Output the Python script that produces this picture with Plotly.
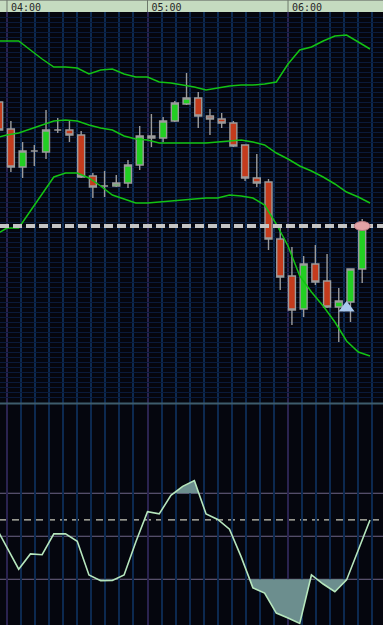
import numpy as np
import pandas as pd
import plotly.graph_objects as go

# ---------------- data ----------------
# bar times (first bar lies just left of the visible window)
bar_times = pd.date_range("2013-05-14 03:55", periods=33, freq="5min")
candle_times = bar_times[1:]

opens = [1.32310, 1.32283, 1.32245, 1.32261, 1.32260, 1.32282, 1.32282, 1.32277,
         1.32236, 1.32226, 1.32226, 1.32229, 1.32247, 1.32276, 1.32274, 1.32291,
         1.32308, 1.32314, 1.32296, 1.32293, 1.32289, 1.32267, 1.32234, 1.32230,
         1.32173, 1.32136, 1.32103, 1.32148, 1.32131, 1.32105, 1.32110, 1.32143]
highs = [1.32317, 1.32291, 1.32270, 1.32267, 1.32302, 1.32294, 1.32292, 1.32281,
         1.32239, 1.32241, 1.32237, 1.32252, 1.32286, 1.32298, 1.32295, 1.32311,
         1.32339, 1.32320, 1.32303, 1.32299, 1.32291, 1.32267, 1.32258, 1.32233,
         1.32184, 1.32165, 1.32156, 1.32167, 1.32158, 1.32124, 1.32143, 1.32193]
lows = [1.32277, 1.32240, 1.32234, 1.32246, 1.32253, 1.32279, 1.32270, 1.32234,
        1.32214, 1.32215, 1.32225, 1.32224, 1.32242, 1.32265, 1.32270, 1.32290,
        1.32307, 1.32284, 1.32277, 1.32284, 1.32265, 1.32231, 1.32225, 1.32162,
        1.32122, 1.32087, 1.32095, 1.32127, 1.32104, 1.32070, 1.32090, 1.32129]
closes = [1.32282, 1.32245, 1.32261, 1.32261, 1.32282, 1.32282, 1.32277, 1.32235,
          1.32225, 1.32226, 1.32229, 1.32247, 1.32276, 1.32274, 1.32291, 1.32309,
          1.32314, 1.32296, 1.32293, 1.32289, 1.32266, 1.32234, 1.32229, 1.32173,
          1.32135, 1.32102, 1.32148, 1.32130, 1.32105, 1.32111, 1.32143, 1.32185]

bb_upper = [1.32371, 1.32371, 1.32371, 1.32362, 1.32353, 1.32345, 1.32345, 1.32344,
            1.32338, 1.32342, 1.32343, 1.32338, 1.32335, 1.32335, 1.32330, 1.32329,
            1.32327, 1.32325, 1.32322, 1.32324, 1.32326, 1.32327, 1.32327, 1.32328,
            1.32330, 1.32348, 1.32362, 1.32365, 1.32371, 1.32376, 1.32377, 1.32370,
            1.32363]
bb_mid = [1.32274, 1.32277, 1.32279, 1.32283, 1.32287, 1.32291, 1.32292, 1.32291,
          1.32287, 1.32284, 1.32282, 1.32276, 1.32273, 1.32272, 1.32269, 1.32269,
          1.32269, 1.32269, 1.32269, 1.32270, 1.32271, 1.32272, 1.32270, 1.32267,
          1.32259, 1.32253, 1.32246, 1.32241, 1.32235, 1.32228, 1.32220, 1.32215,
          1.32209]
bb_lower = [1.32177, 1.32184, 1.32184, 1.32201, 1.32218, 1.32235, 1.32239, 1.32239,
            1.32234, 1.32226, 1.32217, 1.32213, 1.32209, 1.32209, 1.32210, 1.32211,
            1.32212, 1.32213, 1.32214, 1.32214, 1.32217, 1.32216, 1.32214, 1.32207,
            1.32188, 1.32166, 1.32136, 1.32120, 1.32106, 1.32090, 1.32071, 1.32060,
            1.32056]

rsi = [54.8, 45.0, 34.7, 41.8, 41.4, 51.1, 51.1, 47.7, 32.0, 29.3, 29.4, 32.0,
       47.3, 61.4, 60.4, 69.0, 73.2, 75.9, 60.4, 57.8, 53.3, 40.4, 26.0, 23.6,
       14.3, 12.0, 9.5, 32.0, 27.8, 24.2, 29.7, 43.6, 57.6]

rsi_levels = [70, 50, 30]
rsi_dash_level = 57.6
price_level = 1.32186
arrow_bar = 30          # index in bar_times
arrow_price = 1.32104
hour_ticks = ["2013-05-14 04:00", "2013-05-14 05:00", "2013-05-14 06:00"]
hour_labels = ["04:00", "05:00", "06:00"]

# ---------------- style ----------------
BG = "#05060e"
GREEN_BODY = "#22cf22"
RED_BODY = "#c43b1c"
WICK = "#9c9c9c"
BAND = "#13c313"
FILL = "#6c8e8e"
CURVE = "#b6e6bd"
LEVEL = "#6f6688"

W, H = 383, 625
TOP = 12
plot_h = H - TOP
main_bottom = (H - 403) / plot_h
sub_top = (H - 404) / plot_h

candle_shift = pd.Timedelta(seconds=200)

fig = go.Figure()

# indicator fills (clip the curve at its levels, inserting crossing points)
xnum = (bar_times.view("int64") // 10**6).astype(float)


def clipped(level, above):
    xs, ys = [], []
    for i in range(len(rsi)):
        if i > 0:
            a, b = rsi[i - 1] - level, rsi[i] - level
            if a * b < 0:
                t = a / (a - b)
                xs.append(xnum[i - 1] + t * (xnum[i] - xnum[i - 1]))
                ys.append(level)
        xs.append(xnum[i])
        ys.append(rsi[i])
    ys = np.array(ys)
    ys = np.maximum(ys, level) if above else np.minimum(ys, level)
    return pd.to_datetime(np.array(xs), unit="ms"), ys


for lvl, above in ((70, True), (30, False)):
    xs, ys = clipped(lvl, above)
    fig.add_trace(go.Scatter(x=xs, y=[lvl] * len(xs), mode="lines",
                             line=dict(width=0, color=FILL), yaxis="y2",
                             hoverinfo="skip", showlegend=False))
    fig.add_trace(go.Scatter(x=xs, y=ys, mode="lines", fill="tonexty",
                             fillcolor=FILL, line=dict(width=0, color=FILL),
                             yaxis="y2", hoverinfo="skip", showlegend=False))

fig.add_trace(go.Scatter(x=bar_times, y=rsi, mode="lines",
                         line=dict(color=CURVE, width=1.6), yaxis="y2",
                         hoverinfo="skip", showlegend=False))

# Bollinger bands
for band in (bb_upper, bb_mid, bb_lower):
    fig.add_trace(go.Scatter(x=bar_times, y=band, mode="lines",
                             line=dict(color=BAND, width=1.5), yaxis="y",
                             hoverinfo="skip", showlegend=False))

# candles
fig.add_trace(go.Candlestick(
    x=candle_times - candle_shift, open=opens, high=highs, low=lows, close=closes,
    increasing=dict(line=dict(color=WICK, width=1.4), fillcolor=GREEN_BODY),
    decreasing=dict(line=dict(color=WICK, width=1.4), fillcolor=RED_BODY),
    whiskerwidth=0, yaxis="y", hoverinfo="skip", showlegend=False))

# arrow marker
fig.add_trace(go.Scatter(x=[bar_times[arrow_bar]], y=[arrow_price], mode="markers",
                         marker=dict(symbol="triangle-up", size=14, color="#a9c9ee",
                                     line=dict(width=0)),
                         yaxis="y", hoverinfo="skip", showlegend=False))

shapes = []
# header bar
shapes.append(dict(type="rect", xref="paper", yref="paper", x0=0, x1=1, y0=1,
                   y1=1 + TOP / plot_h, fillcolor="#c5dbc0", line=dict(width=0),
                   layer="below"))
shapes.append(dict(type="line", xref="paper", yref="paper", x0=0, x1=1,
                   y0=1 + (TOP - 0.5) / plot_h, y1=1 + (TOP - 0.5) / plot_h,
                   line=dict(color="#8d998b", width=1), layer="above"))
for hv in hour_ticks:
    shapes.append(dict(type="line", xref="x", yref="paper", x0=hv, x1=hv,
                       y0=1, y1=1 + TOP / plot_h,
                       line=dict(color="#6d786b", width=1), layer="above"))
# panel separator
shapes.append(dict(type="line", xref="paper", yref="paper", x0=0, x1=1,
                   y0=(main_bottom + sub_top) / 2, y1=(main_bottom + sub_top) / 2,
                   line=dict(color="#3e5c6c", width=2), layer="above"))
# indicator levels
for lvl in rsi_levels:
    shapes.append(dict(type="line", xref="paper", yref="y2", x0=0, x1=1, y0=lvl, y1=lvl,
                       line=dict(color=LEVEL, width=1), layer="between"))
shapes.append(dict(type="line", xref="paper", yref="y2", x0=0, x1=1,
                   y0=rsi_dash_level, y1=rsi_dash_level,
                   line=dict(color="#c9c9bb", width=1.4, dash="7px,5px"), layer="between"))
# price level (dashed) and last price ellipse
shapes.append(dict(type="line", xref="paper", yref="y", x0=0, x1=1,
                   y0=price_level, y1=price_level,
                   line=dict(color="#c4c4c4", width=4, dash="9px,4px"), layer="above"))
shapes.append(dict(type="circle", xref="x", yref="y", xsizemode="pixel", ysizemode="pixel",
                   xanchor=candle_times[-1] - candle_shift, yanchor=price_level,
                   x0=-8, x1=8, y0=-4.5, y1=4.5,
                   fillcolor="#e3a3a6", line=dict(color="#b57a80", width=1), layer="above"))

fig.update_layout(
    width=W, height=H,
    margin=dict(l=0, r=0, t=TOP, b=0, pad=0, autoexpand=False),
    paper_bgcolor=BG, plot_bgcolor=BG,
    showlegend=False,
    boxgap=0.15,
    shapes=shapes,
    xaxis=dict(
        type="date", domain=[0, 1], anchor="y", side="top", automargin=False,
        range=["2013-05-14 03:57:01", "2013-05-14 06:40:33"],
        tickvals=hour_ticks, ticktext=hour_labels,
        ticks="",
        tickfont=dict(family="DejaVu Sans Mono", size=10, color="#262626"),
        ticklabelshift=19, ticklabelstandoff=-2,
        showgrid=True, gridcolor="#2a2350", gridwidth=2,
        minor=dict(dtick=360000, tick0="2013-05-14 04:00", showgrid=True,
                   gridcolor="#0c2950", gridwidth=2, ticks=""),
        showline=False, zeroline=False, rangeslider=dict(visible=False),
        fixedrange=True,
    ),
    yaxis=dict(
        domain=[main_bottom, 1], anchor="x", range=[1.32009, 1.32400],
        showticklabels=False, ticks="", showgrid=True, gridcolor="#0a1a3a",
        gridwidth=1, dtick=0.00005, tick0=1.32, zeroline=False, showline=False,
        fixedrange=True, automargin=False,
    ),
    yaxis2=dict(
        domain=[0, sub_top], anchor="x", range=[8.74, 111.5],
        showticklabels=False, ticks="", showgrid=False, zeroline=False,
        showline=False, fixedrange=True, automargin=False,
    ),
)

fig.write_html("out.html")
